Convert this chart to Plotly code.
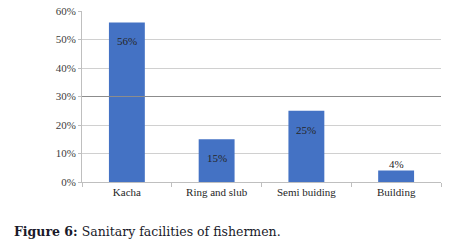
import plotly.graph_objects as go

categories = ["Kacha", "Ring and slub", "Semi buiding", "Building"]
values = [0.56, 0.15, 0.25, 0.04]
value_labels = ["56%", "15%", "25%", "4%"]
label_inside = [True, True, True, False]
y_ticks = [0, 0.1, 0.2, 0.3, 0.4, 0.5, 0.6]
caption_bold = "Figure 6:"
caption_text = "Sanitary facilities of fishermen."

SERIF = "Liberation Serif, Times New Roman, serif"

fig = go.Figure()
fig.add_trace(go.Bar(
    x=categories, y=values,
    marker=dict(color="#4472C4", line=dict(width=0)),
    width=0.4, hoverinfo="skip",
))

annotations = []
for c, v, t, ins in zip(categories, values, value_labels, label_inside):
    annotations.append(dict(
        x=c, y=v, xref="x", yref="y", text=t, showarrow=False,
        yanchor="middle", yshift=-19 if ins else 7,
        font=dict(family=SERIF, size=11, color="#262626"),
    ))
annotations.append(dict(
    x=-0.195, y=-0.292, xref="paper", yref="paper", xanchor="left", yanchor="middle",
    text="<b>" + caption_bold + "</b> " + caption_text, showarrow=False,
    font=dict(family="DejaVu Serif", size=12.5, color="#1a1a2a"),
))

fig.add_shape(type="line", xref="paper", yref="y", x0=0, x1=1, y0=0.3, y1=0.3,
              line=dict(color="#8C8C8C", width=1), layer="above")

fig.update_layout(
    width=462, height=249,
    margin=dict(l=82, r=21, t=11, b=67, autoexpand=False),
    paper_bgcolor="white", plot_bgcolor="white",
    showlegend=False,
    font=dict(family=SERIF, size=11, color="#262626"),
    annotations=annotations,
    bargap=0.6,
)
fig.update_xaxes(
    showline=True, linecolor="#BFBFBF", linewidth=1,
    ticks="outside", tickson="boundaries", ticklen=4, tickcolor="#BFBFBF",
    showgrid=False, tickfont=dict(family=SERIF, size=11, color="#262626"),
    range=[-0.5, 3.5], automargin=False,
)
fig.update_yaxes(
    range=[0, 0.6], tickvals=y_ticks, tickformat=".0%",
    showline=True, linecolor="#BFBFBF", linewidth=1,
    ticks="outside", ticklen=3, tickcolor="#BFBFBF",
    showgrid=True, gridcolor="#D0D0D0", gridwidth=1, zeroline=False,
    tickfont=dict(family=SERIF, size=11, color="#404040"), automargin=False,
)

fig.write_html("out.html", config={"displayModeBar": False},
               post_script="document.body.style.margin='0';document.body.style.overflow='hidden';")
